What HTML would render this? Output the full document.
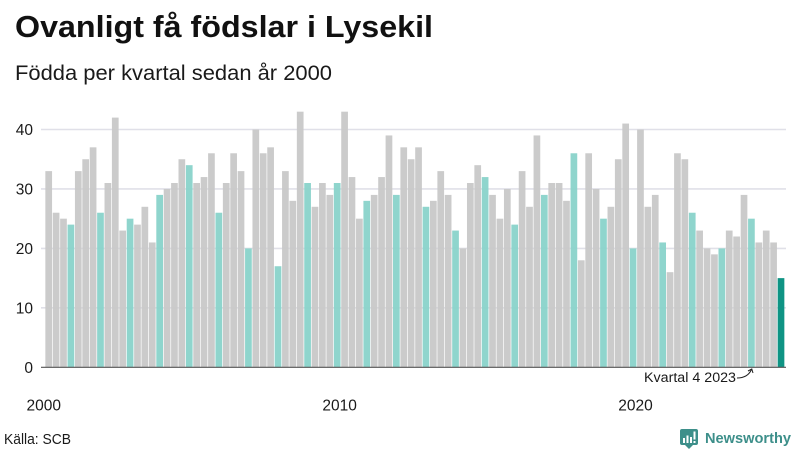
<!DOCTYPE html>
<html lang="sv">
<head>
<meta charset="utf-8">
<title>Ovanligt få födslar i Lysekil</title>
<style>
html,body{margin:0;padding:0;background:#fff;width:800px;height:450px;overflow:hidden}
svg{display:block}
text{font-family:"Liberation Sans",sans-serif;fill:#1a1a1a}
</style>
</head>
<body>
<svg id="chart" width="800" height="450" viewBox="0 0 800 450" xmlns="http://www.w3.org/2000/svg">
  <text x="15" y="37" font-size="31" font-weight="700" textLength="418" lengthAdjust="spacingAndGlyphs" style="fill:#111">Ovanligt få födslar i Lysekil</text>
  <text x="15" y="80" font-size="21" textLength="317" lengthAdjust="spacingAndGlyphs">Födda per kvartal sedan år 2000</text>
  <g id="grid"></g>
  <g id="bars"></g>
  <g id="axis"></g>
  <text x="644" y="382" font-size="13.5" textLength="92" lengthAdjust="spacingAndGlyphs">Kvartal 4 2023</text>
  <path d="M737 378 C744 378 749 375 751.5 369.5 M748 371 L751.8 369 L753 373" fill="none" stroke="#222" stroke-width="1"/>
  <text x="4" y="444" font-size="14.5" textLength="67" lengthAdjust="spacingAndGlyphs">Källa: SCB</text>
  <g>
    <path d="M682 429 H696 Q698 429 698 431 V443 Q698 445 696 445 H693 L689 449 L685 445 H682 Q680 445 680 443 V431 Q680 429 682 429 Z" fill="#3d8f8a"/>
    <rect x="683" y="438" width="2" height="5" fill="#fff"/>
    <rect x="686.5" y="435.5" width="2" height="7.5" fill="#fff"/>
    <rect x="690" y="437" width="2" height="6" fill="#fff"/>
    <rect x="693.5" y="431.5" width="2" height="8" fill="#fff"/>
    <rect x="693.5" y="441" width="2" height="2" fill="#fff"/>
    <text x="705" y="443" font-size="14.5" font-weight="700" textLength="86" lengthAdjust="spacingAndGlyphs" style="fill:#3d8f8a">Newsworthy</text>
  </g>
</svg>
<script>
const firstYear = 2000;
const quartersPerYear = 4;
const births = [
  33,26,25,24, 33,35,37,26, 31,42,23,25, 24,27,21,29, 30,31,35,34,
  31,32,36,26, 31,36,33,20, 40,36,37,17, 33,28,43,31, 27,31,29,31,
  43,32,25,28, 29,32,39,29, 37,35,37,27, 28,33,29,23, 20,31,34,32,
  29,25,30,24, 33,27,39,29, 31,31,28,36, 18,36,30,25, 27,35,41,20,
  40,27,29,21, 16,36,35,26, 23,20,19,20, 23,22,29,25, 21,23,21,15
];
const yTickValues = [0,10,20,30,40];
const xTickYears = [2000,2010,2020];

const NS = 'http://www.w3.org/2000/svg';
const x0 = 48.7, x1 = 781, barW = 6.7;
const yBase = 367.3, yPerUnit = 5.945;
function xScale(i){ return x0 + i * (x1 - x0) / (births.length - 1); }
function yScale(v){ return yBase - v * yPerUnit; }
function make(tag, attrs){
  const el = document.createElementNS(NS, tag);
  for (const k in attrs) el.setAttribute(k, attrs[k]);
  return el;
}
const grid = document.getElementById('grid');
const bars = document.getElementById('bars');
const axis = document.getElementById('axis');

yTickValues.forEach(function(v){
  if (v !== 0) {
    const line = make('line', {x1:41, x2:786, y1:yScale(v), y2:yScale(v), stroke:'#e0e0e8', 'stroke-width':1.6});
    
    
    grid.appendChild(line);
  }
  const label = make('text', {x:33, y:yScale(v)+5.5, 'text-anchor':'end', 'font-size':15.5});
  label.textContent = String(v);
  
  
  axis.appendChild(label);
});

births.forEach(function(v, i){
  const isQ4 = i % quartersPerYear === quartersPerYear - 1;
  const isLast = i === births.length - 1;
  const rect = make('rect', {
    x: xScale(i) - barW / 2,
    y: yScale(v),
    width: barW,
    height: yBase - yScale(v),
    fill: isLast ? '#0f9484' : (isQ4 ? '#8ad3cb' : '#c9c9c9'),
    'fill-opacity': isLast ? 1 : 0.96
  });
  
  
  bars.appendChild(rect);
});

const baseline = make('line', {x1:41, x2:786, y1:yBase, y2:yBase, stroke:'#555', 'stroke-width':1.2});


axis.appendChild(baseline);

xTickYears.forEach(function(year){
  const idx = (year - firstYear) * quartersPerYear;
  const label = make('text', {x:xScale(idx) - 5, y:410.5, 'text-anchor':'middle', 'font-size':15.5});
  label.textContent = String(year);
  
  
  axis.appendChild(label);
});
</script>
</body>
</html>
